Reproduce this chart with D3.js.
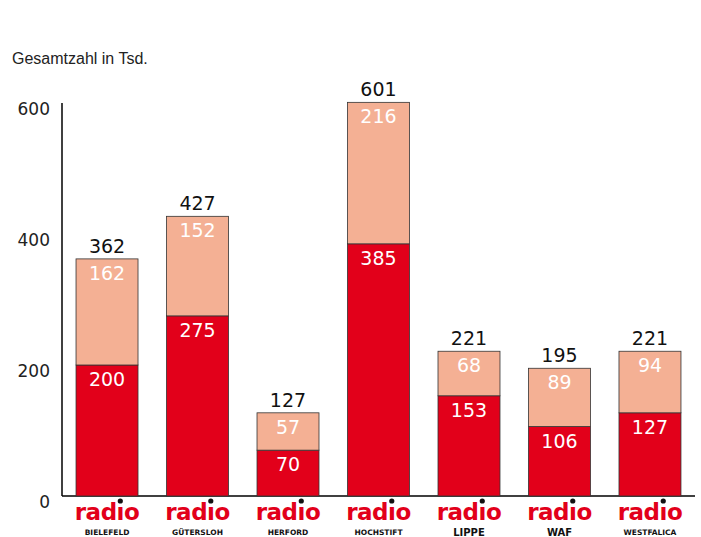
<!DOCTYPE html>
<html>
<head>
<meta charset="utf-8">
<script src="https://cdn.jsdelivr.net/npm/d3@7"></script>
<style>
  body { margin: 0; background: #fff; overflow: hidden; }
  svg { display: block; }
</style>
</head>
<body>
<div id="chart"></div>
<script>
var stations = ["BIELEFELD", "GÜTERSLOH", "HERFORD", "HOCHSTIFT", "LIPPE", "WAF", "WESTFALICA"];
var unten = [200, 275, 70, 385, 153, 106, 127];
var oben = [162, 152, 57, 216, 68, 89, 94];
var gesamt = [362, 427, 127, 601, 221, 195, 221];
var yTicks = [0, 200, 400, 600];

var width = 701, height = 537;
var rot = "#e2001a", hell = "#f4b094";

var svg = d3.select("#chart").append("svg")
    .attr("width", width)
    .attr("height", height);

var x = d3.scaleBand()
    .domain(stations)
    .range([62, 695])
    .paddingInner(0.315)
    .paddingOuter(0.155);

var y = d3.scaleLinear()
    .domain([0, 600])
    .range([496, 103]);

// Titel
svg.append("text")
    .attr("x", 12).attr("y", 64)
    .attr("font-family", "Liberation Sans Narrow, Liberation Sans, sans-serif")
    .attr("font-size", 16)
    .attr("fill", "#222")
    .text("Gesamtzahl in Tsd.");

// Achsen
svg.append("line")
    .attr("x1", 62).attr("x2", 62)
    .attr("y1", y(600)).attr("y2", y(0))
    .attr("stroke", "#000").attr("stroke-width", 1.5);
svg.append("line")
    .attr("x1", 62).attr("x2", 695)
    .attr("y1", y(0)).attr("y2", y(0))
    .attr("stroke", "#000").attr("stroke-width", 1.5);

svg.selectAll(".ytick")
    .data(yTicks)
    .enter().append("text")
    .attr("x", 50)
    .attr("y", d => y(d) + 12)
    .attr("text-anchor", "end")
    .attr("font-family", "DejaVu Sans, sans-serif")
    .attr("font-size", 17)
    .attr("fill", "#222")
    .text(d => d);

var daten = stations.map((s, i) => ({ s: s, u: unten[i], o: oben[i], g: gesamt[i] }));

var g = svg.selectAll(".bar").data(daten).enter().append("g");

// untere Segmente
g.append("rect")
    .attr("x", d => x(d.s))
    .attr("width", x.bandwidth())
    .attr("y", d => y(d.u))
    .attr("height", d => y(0) - y(d.u))
    .attr("fill", rot)
    .attr("stroke", "#333").attr("stroke-width", 0.8);

// obere Segmente
g.append("rect")
    .attr("x", d => x(d.s))
    .attr("width", x.bandwidth())
    .attr("y", d => y(d.u + d.o))
    .attr("height", d => y(d.u) - y(d.u + d.o))
    .attr("fill", hell)
    .attr("stroke", "#333").attr("stroke-width", 0.8);

var numFont = "DejaVu Sans, sans-serif";

g.append("text")
    .attr("x", d => x(d.s) + x.bandwidth() / 2)
    .attr("y", d => y(d.u) + 21)
    .attr("text-anchor", "middle")
    .attr("font-family", numFont).attr("font-size", 19)
    .attr("fill", "#fff")
    .text(d => d.u);

g.append("text")
    .attr("x", d => x(d.s) + x.bandwidth() / 2)
    .attr("y", d => y(d.u + d.o) + 21)
    .attr("text-anchor", "middle")
    .attr("font-family", numFont).attr("font-size", 19)
    .attr("fill", "#fff")
    .text(d => d.o);

g.append("text")
    .attr("x", d => x(d.s) + x.bandwidth() / 2)
    .attr("y", d => y(d.u + d.o) - 6)
    .attr("text-anchor", "middle")
    .attr("font-family", numFont).attr("font-size", 19)
    .attr("fill", "#111")
    .text(d => d.g);

// Logos
var logo = g.append("g")
    .attr("transform", d => "translate(" + (x(d.s) + x.bandwidth() / 2) + ",0)");

var rad = logo.append("text")
    .attr("x", 0).attr("y", 520)
    .attr("text-anchor", "middle")
    .attr("font-family", "DejaVu Sans, sans-serif")
    .attr("font-weight", "bold")
    .attr("font-size", 23)
    .attr("letter-spacing", -0.5)
    .attr("fill", rot)
    .text("radıo");

rad.each(function() {
    var node = this;
    var total = node.getComputedTextLength();
    var vor = node.getSubStringLength(0, 3);
    var iw = node.getSubStringLength(3, 1);
    d3.select(node.parentNode).append("circle")
        .attr("cx", -total / 2 + vor + iw / 2)
        .attr("cy", 501)
        .attr("r", 2.6)
        .attr("fill", "#111");
});

logo.append("text")
    .attr("x", 0)
    .attr("y", d => (d.s === "LIPPE" || d.s === "WAF") ? 536 : 535)
    .attr("text-anchor", "middle")
    .attr("font-family", "DejaVu Sans, sans-serif")
    .attr("font-weight", "bold")
    .attr("font-size", d => (d.s === "LIPPE" || d.s === "WAF") ? 10 : 7.5)
    .attr("fill", "#111")
    .text(d => d.s);
</script>
</body>
</html>
